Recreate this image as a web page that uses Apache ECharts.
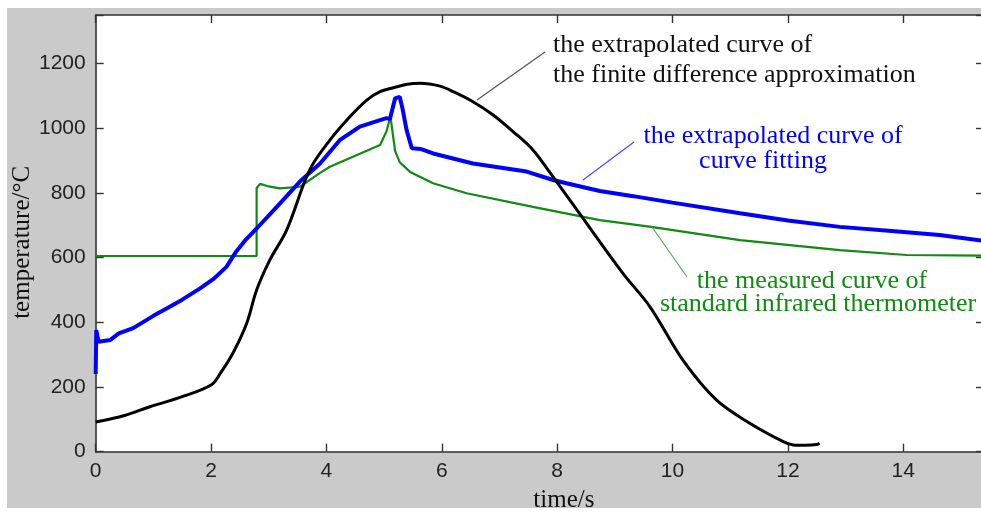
<!DOCTYPE html>
<html>
<head>
<meta charset="utf-8">
<script src="https://cdn.jsdelivr.net/npm/echarts@6/dist/echarts.min.js"></script>
<style>
html,body{margin:0;padding:0;background:#fff;}
#bg{position:absolute;left:7px;top:8px;width:974px;height:500px;background:#cacaca;}
#chart{position:absolute;left:0;top:0;width:981px;height:513px;}
</style>
</head>
<body>
<div id="bg"></div>
<div id="chart"></div>
<script>
// x-axis tick labels
const xTicks = [0, 2, 4, 6, 8, 10, 12, 14];
// y-axis tick labels
const yTicks = [0, 200, 400, 600, 800, 1000, 1200];

// the extrapolated curve of the finite difference approximation (time s, temperature °C)
const finiteDiff = [
  [0,92],[0.5,112],[0.94,139],[1.5,170],[2.0,206],[2.16,242],[2.38,305],[2.62,398],
  [2.79,500],[3.02,593],[3.31,685],[3.71,871],[4.06,963],[4.41,1036],[4.70,1087],
  [4.93,1113],[5.16,1125],[5.4,1136],[5.63,1139],[5.97,1130],[6.2,1113],[6.54,1082],
  [6.89,1041],[7.24,989],[7.58,933],[7.87,864],[8.34,748],[9.14,551],[9.61,448],
  [10.18,283],[10.76,160],[11.34,88],[11.92,31],[12.09,21],[12.3,20],[12.5,22],[12.55,26]
];

// the extrapolated curve of curve fitting
const curveFit = [
  [0,240],[0.01,376],[0.05,340],[0.25,345],[0.4,366],[0.65,382],[1.0,420],[1.23,443],
  [1.5,470],[1.81,505],[2.05,535],[2.27,572],[2.44,620],[2.6,655],[2.79,690],
  [3.14,757],[3.54,835],[3.89,891],[4.23,963],[4.58,1005],[4.93,1025],[5.04,1031],
  [5.1,1028],[5.19,1092],[5.27,1097],[5.32,1060],[5.39,994],[5.48,938],[5.63,936],
  [5.85,922],[6.54,891],[7.47,866],[7.93,840],[8.16,830],[8.74,806],[9.32,790],
  [10.0,770],[11.17,737],[12.0,715],[12.9,695],[13.8,682],[14.63,670],[15.4,652]
];

// the measured curve of standard infrared thermometer
const measured = [
  [0,605],[2.79,605],[2.79,815],[2.85,828],[3.0,820],[3.19,814],[3.54,819],[3.89,862],
  [4.06,881],[4.46,912],[4.93,948],[5.04,990],[5.11,1036],[5.19,930],[5.27,895],[5.45,865],
  [5.85,830],[6.43,799],[7.58,757],[8.74,716],[9.6,696],[11.17,654],[12.9,623],
  [14.06,608],[15.4,606]
];

const labelFont = {fontFamily:'Liberation Sans', fontSize:21, color:'#222'};
const serif = 'Liberation Serif';

const chart = echarts.init(document.getElementById('chart'), null, {renderer:'canvas'});

const axisLineStyle = {color:'#333', width:1.6};
const tickStyle = {show:true, inside:true, length:8, lineStyle:{color:'#333', width:1.4}};

chart.setOption({
  animation:false,
  backgroundColor:'transparent',
  grid:{left:95.7, top:15, right:-3, bottom:61.3, show:true, backgroundColor:'#fff', borderWidth:0,
        containLabel:false, outerBoundsMode:'none'},
  xAxis:[{
    type:'value', position:'bottom', min:0, max:15.4, interval:2,
    name:'time/s', nameLocation:'middle', nameGap:36, nameMoveOverlap:false,
    nameTextStyle:{fontFamily:serif, fontSize:25, color:'#111', padding:[0,0,0,48]},
    axisLine:{show:true, onZero:false, lineStyle:axisLineStyle},
    axisTick:tickStyle,
    splitLine:{show:false},
    axisLabel:Object.assign({margin:9, formatter:v => xTicks.includes(v) ? String(v) : ''}, labelFont)
  },{
    type:'value', position:'top', min:0, max:15.4, interval:2,
    axisLine:{show:true, onZero:false, lineStyle:axisLineStyle},
    axisTick:tickStyle, splitLine:{show:false}, axisLabel:{show:false}
  }],
  yAxis:[{
    type:'value', position:'left', min:0, max:1350, interval:200,
    name:'temperature/°C', nameLocation:'middle', nameGap:61, nameRotate:90, nameMoveOverlap:false,
    nameTextStyle:{fontFamily:serif, fontSize:25, color:'#111', padding:[0,18,0,0]},
    axisLine:{show:true, onZero:false, lineStyle:axisLineStyle},
    axisTick:tickStyle,
    splitLine:{show:false},
    axisLabel:Object.assign({margin:10, formatter:v => yTicks.includes(v) ? String(v) : ''}, labelFont)
  },{
    type:'value', position:'right', min:0, max:1350, interval:200,
    axisLine:{show:true, onZero:false, lineStyle:axisLineStyle},
    axisTick:tickStyle, splitLine:{show:false}, axisLabel:{show:false}
  }],
  series:[
    {name:'measured', type:'line', data:measured, showSymbol:false, symbol:'none',
     lineStyle:{color:'#118a11', width:2.2}, z:2},
    {name:'curve fitting', type:'line', data:curveFit, showSymbol:false, symbol:'none',
     lineStyle:{color:'#0000ff', width:4}, z:3},
    {name:'finite difference', type:'line', data:finiteDiff, showSymbol:false, symbol:'none',
     smooth:0.35,
     lineStyle:{color:'#000', width:3}, z:4}
  ],
  graphic:[
    {type:'text', left:553, top:32, z:10, style:{text:'the extrapolated curve of', font:'26px "Liberation Serif"', fill:'#111'}},
    {type:'text', left:553, top:62, z:10, style:{text:'the finite difference approximation', font:'26px "Liberation Serif"', fill:'#111'}},
    {type:'line', z:10, shape:{x1:477, y1:100, x2:545, y2:52}, style:{stroke:'#555', lineWidth:1.2}},
    {type:'text', x:773, y:136, z:10, style:{text:'the extrapolated curve of', font:'26px "Liberation Serif"', fill:'#0000ff', textAlign:'center', textVerticalAlign:'middle'}},
    {type:'text', x:763, y:161, z:10, style:{text:'curve fitting', font:'26px "Liberation Serif"', fill:'#0000ff', textAlign:'center', textVerticalAlign:'middle'}},
    {type:'line', z:10, shape:{x1:583, y1:180, x2:634, y2:142}, style:{stroke:'#4a4aff', lineWidth:1.2}},
    {type:'text', x:812, y:281, z:10, style:{text:'the measured curve of', font:'26px "Liberation Serif"', fill:'#118a11', textAlign:'center', textVerticalAlign:'middle'}},
    {type:'text', x:818, y:304, z:10, style:{text:'standard infrared thermometer', font:'26px "Liberation Serif"', fill:'#118a11', textAlign:'center', textVerticalAlign:'middle'}},
    {type:'line', z:10, shape:{x1:652, y1:227, x2:687, y2:277}, style:{stroke:'#55aa55', lineWidth:1.2}}
  ]
});
</script>
</body>
</html>
